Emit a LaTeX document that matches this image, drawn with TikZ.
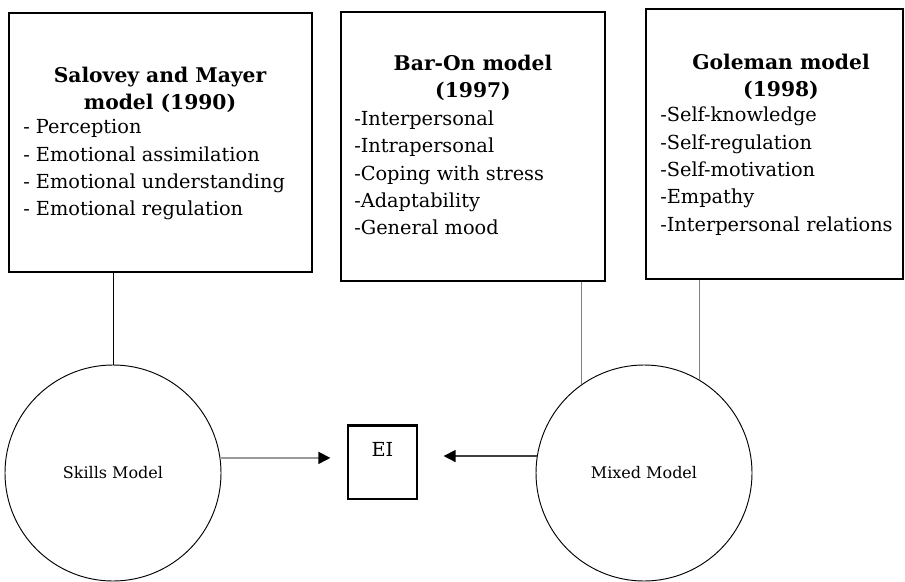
\documentclass[tikz,border=0pt]{standalone}
\usepackage{fontspec}
\setmainfont{DejaVu Serif}
\usetikzlibrary{arrows.meta,fit}
\begin{document}
\begin{tikzpicture}[x=0.75pt,y=-0.75pt,
  modelbox/.style={draw, line width=1.1pt, inner sep=0pt},
  title/.style={font=\fontsize{15.2}{20}\selectfont\bfseries, align=center, inner sep=0pt},
  items/.style={font=\fontsize{14.5}{20.5}\selectfont, align=left, anchor=west, inner sep=0pt},
  model/.style={draw, circle, line width=0.7pt, minimum size=162pt, inner sep=0pt, font=\fontsize{12}{14}\selectfont},
  link/.style={line width=0.6pt},
  feed/.style={line width=1.1pt, -{Triangle[length=9pt,width=9pt,color=black,fill=black]}}]
\useasboundingbox (0,0) rectangle (905,581);

% the three model boxes
\node[modelbox, fit={(9,13) (312,272)}] (sm) {};
\node[title] (smt) at (160,90) {Salovey and Mayer\\model (1990)};
\node[items] (sml) at (23,170) {- Perception\\- Emotional assimilation\\- Emotional understanding\\- Emotional regulation};

\node[modelbox, fit={(341,12) (605,281)}] (bo) {};
\node[title] (bot) at (473,78) {Bar-On model\\(1997)};
\node[items] (bol) at (354,173) {-Interpersonal\\-Intrapersonal\\-Coping with stress\\-Adaptability\\-General mood};

\node[modelbox, fit={(646,9) (903,279)}] (go) {};
\node[title] (got) at (781,77) {Goleman model\\(1998)};
\node[items] (gol) at (660,171) {-Self-knowledge\\-Self-regulation\\-Self-motivation\\-Empathy\\-Interpersonal relations};

% the two kinds of model and EI
\node[model] (skills) at (113,473) {Skills Model};
\node[model] (mixed) at (644,473) {Mixed Model};

\node[draw, line width=0.9pt, inner sep=0pt, fit={(348,426) (417,499)}] (ei) {};
\draw[line width=2.2pt] (ei.north west) -- (ei.north east);
\node[font=\fontsize{14.5}{16}\selectfont, inner sep=0pt] (eit) at (382.5,449) {EI};

% links from boxes to models
\draw[link] (skills.north) -- (skills.north |- sm.south);
\draw[link, gray] (mixed.125) -- (mixed.125 |- bo.south);
\draw[link, gray] (mixed.59) -- (mixed.59 |- go.south);

% arrows into EI
\draw[feed, draw=gray!80] (skills.8.5) -- (skills.8.5 -| ei.west) [shorten >=12.75pt];
\draw[feed, draw=black!75] (mixed.171) -- (mixed.171 -| ei.east) [shorten >=19.5pt];
\end{tikzpicture}
\end{document}
